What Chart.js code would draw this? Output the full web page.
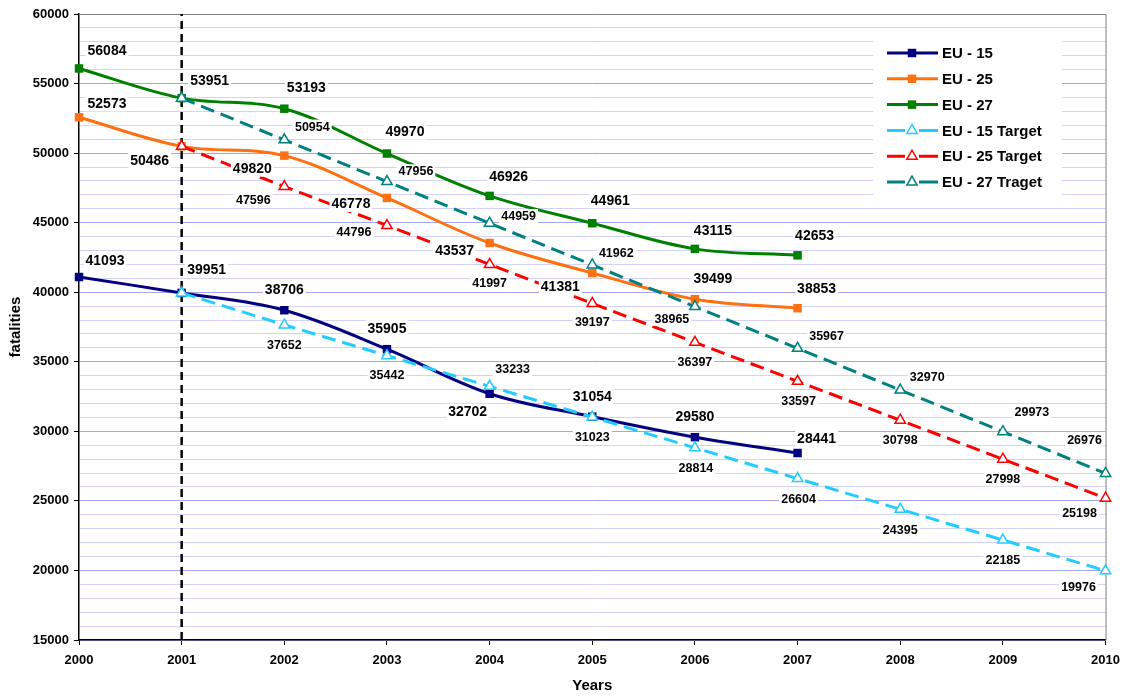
<!DOCTYPE html>
<html lang="en">
<head>
  <meta charset="UTF-8">
  <title>Road fatalities EU-15 / EU-25 / EU-27 and targets 2000–2010</title>
  <script src="https://cdn.jsdelivr.net/npm/chart.js"></script>
  <style>
    html, body {
      margin: 0;
      padding: 0;
      background: #fff;
    }
    .wrap {
      width: 1128px;
      height: 699px;
      position: relative;
    }
  </style>
</head>
<body>

  <div class="wrap">
    <canvas id="fatalChart"></canvas>
  </div>

  <script>
    const years = [2000, 2001, 2002, 2003, 2004, 2005, 2006, 2007, 2008, 2009, 2010];

    // actual values 2000-2007
    const eu15 = [41093, 39951, 38706, 35905, 32702, 31054, 29580, 28441];
    const eu25 = [52573, 50486, 49820, 46778, 43537, 41381, 39499, 38853];
    const eu27 = [56084, 53951, 53193, 49970, 46926, 44961, 43115, 42653];

    // targets 2001-2010
    const eu15Target = [39951, 37652, 35442, 33233, 31023, 28814, 26604, 24395, 22185, 19976];
    const eu25Target = [50486, 47596, 44796, 41997, 39197, 36397, 33597, 30798, 27998, 25198];
    const eu27Target = [53951, 50954, 47956, 44959, 41962, 38965, 35967, 32970, 29973, 26976];

    const seriesNames = ['EU - 15', 'EU - 25', 'EU - 27', 'EU - 15 Target', 'EU - 25 Target', 'EU - 27 Traget'];

    // where each value label sits relative to its point (px)
    const lbl15 = [[26, -16], [25, -23], [0, -21], [0, -21], [-22, 18], [0, -20], [0, -21], [19, -14]];
    const lbl25 = [[28, -14], [-32, 14], [-32, 13], [-36, 6], [-35, 8], [-32, 14], [18, -21], [19, -20]];
    const lbl27 = [[28, -18], [28, -18], [22, -21], [18, -22], [19, -19], [18, -23], [18, -18], [17, -20]];
    const lbl15T = [null, [0, 20], [0, 19], [23, -17], [0, 20], [1, 20], [1, 20], [0, 21], [0, 20], [-27, 16]];
    const lbl25T = [null, [-31, 13], [-33, 7], [0, 19], [0, 19], [0, 20], [1, 20], [0, 20], [0, 20], [-26, 15]];
    const lbl27T = [null, [28, -13], [29, -10], [29, -7], [24, -12], [-23, 12], [29, -12], [27, -13], [29, -20], [-21, -33]];

    const FONT = 'Arial, "Liberation Sans", sans-serif';
    Chart.defaults.font.family = FONT;

    const pts = (vals, start) => vals.map((v, i) => ({ x: years[start + i], y: v }));

    function solid(label, vals, color, lbls) {
      return {
        label: label,
        data: pts(vals, 0),
        borderColor: color,
        backgroundColor: color,
        borderWidth: 3,
        tension: 0.35,
        pointStyle: 'rect',
        pointRadius: 6,
        pointBorderWidth: 0,
        clip: false,
        labelOffsets: lbls,
        labelSize: 14
      };
    }

    function target(label, vals, color, lbls) {
      return {
        label: label,
        data: pts(vals, 1),
        borderColor: color,
        backgroundColor: '#ffffff',
        pointBorderColor: color,
        borderWidth: 3,
        borderDash: [14, 7],
        tension: 0,
        pointStyle: 'triangle',
        pointRadius: 6,
        pointBorderWidth: 1.5,
        clip: false,
        labelOffsets: lbls,
        labelSize: 12.5,
        isTarget: true
      };
    }

    const colors = ['#000080', '#ff7010', '#008000', '#22ccff', '#ff0000', '#008080'];

    const datasets = [
      target(seriesNames[3], eu15Target, colors[3], lbl15T),
      target(seriesNames[4], eu25Target, colors[4], lbl25T),
      target(seriesNames[5], eu27Target, colors[5], lbl27T),
      solid(seriesNames[0], eu15, colors[0], lbl15),
      solid(seriesNames[1], eu25, colors[1], lbl25),
      solid(seriesNames[2], eu27, colors[2], lbl27),
      {
        label: 'marker2001',
        data: [{ x: 2001, y: 15000 }, { x: 2001, y: 60000 }],
        borderColor: '#000',
        borderWidth: 2.5,
        borderDash: [8, 5],
        pointRadius: 0
      }
    ];

    // value labels with white boxes, plot frame, legend, axis titles
    const decor = {
      id: 'decor',
      beforeDatasetsDraw(chart) {
        const { ctx, chartArea: a } = chart;
        ctx.save();
        ctx.strokeStyle = '#808080';
        ctx.lineWidth = 1;
        ctx.beginPath();
        ctx.moveTo(a.left, a.top + 0.5);
        ctx.lineTo(a.right + 0.5, a.top + 0.5);
        ctx.lineTo(a.right + 0.5, a.bottom);
        ctx.stroke();
        ctx.restore();
      },
      afterDatasetsDraw(chart) {
        const { ctx, chartArea: a } = chart;
        ctx.save();
        ctx.textAlign = 'center';
        ctx.textBaseline = 'middle';
        chart.data.datasets.forEach((ds, di) => {
          if (!ds.labelOffsets) return;
          const meta = chart.getDatasetMeta(di);
          ctx.font = 'bold ' + ds.labelSize + 'px ' + FONT;
          meta.data.forEach((p, i) => {
            const off = ds.labelOffsets[i];
            if (!off) return;
            const txt = String(ds.data[i].y);
            const cx = p.x + off[0], cy = p.y + off[1];
            const w = ctx.measureText(txt).width + 4;
            const h = ds.labelSize + 2;
            ctx.fillStyle = '#fff';
            ctx.fillRect(cx - w / 2, cy - h / 2, w, h);
            ctx.fillStyle = '#000';
            ctx.fillText(txt, cx, cy + 0.5);
          });
        });

        // legend
        const bx = 873, by = 36, bw = 189, bh = 162;
        ctx.fillStyle = '#fff';
        ctx.fillRect(bx, by, bw, bh);
        const order = [3, 4, 5, 0, 1, 2];
        ctx.textAlign = 'left';
        ctx.font = 'bold 15px ' + FONT;
        order.forEach((di, k) => {
          const ds = chart.data.datasets[di];
          const y = 53 + k * 25.8;
          const x0 = 887, x1 = 938, xm = 912;
          ctx.setLineDash([]);
          ctx.strokeStyle = ds.borderColor;
          ctx.lineWidth = 3;
          ctx.beginPath();
          if (ds.isTarget) {
            ctx.moveTo(x0, y); ctx.lineTo(905, y);
            ctx.moveTo(919, y); ctx.lineTo(x1, y);
          } else {
            ctx.moveTo(x0, y); ctx.lineTo(x1, y);
          }
          ctx.stroke();
          ctx.fillStyle = ds.isTarget ? '#fff' : ds.borderColor;
          ctx.strokeStyle = ds.borderColor;
          ctx.lineWidth = ds.pointBorderWidth || 0.01;
          Chart.helpers.drawPoint(ctx, {
            pointStyle: ds.pointStyle,
            radius: ds.pointRadius,
            borderWidth: ds.pointBorderWidth || 0.01
          }, xm, y);
          ctx.fillStyle = '#000';
          ctx.fillText(ds.label, 942, y + 1);
        });

        // axis titles
        ctx.fillStyle = '#000';
        ctx.textAlign = 'center';
        ctx.font = 'bold 15px ' + FONT;
        ctx.fillText('Years', (a.left + a.right) / 2, a.bottom + 46);
        ctx.translate(16, (a.top + a.bottom) / 2);
        ctx.rotate(-Math.PI / 2);
        ctx.fillText('fatalities', 0, 0);
        ctx.restore();
      }
    };

    new Chart(document.getElementById('fatalChart'), {
      type: 'line',
      data: { datasets: datasets },
      options: {
        responsive: true,
        maintainAspectRatio: false,
        animation: false,
        layout: { padding: { top: 14, right: 20, left: 0, bottom: 0 } },
        plugins: {
          legend: { display: false },
          tooltip: { enabled: false }
        },
        scales: {
          x: {
            type: 'linear',
            min: 2000,
            max: 2010,
            afterFit: s => { s.height = 59; },
            ticks: {
              stepSize: 1,
              padding: 8,
              color: '#000',
              font: { size: 13, weight: 'bold' },
              callback: v => String(v)
            },
            grid: {
              drawOnChartArea: false,
              tickLength: 5,
              tickColor: '#000'
            },
            border: { color: '#000', width: 1.5 }
          },
          y: {
            min: 15000,
            max: 60000,
            afterFit: s => { s.width = 79; },
            ticks: {
              stepSize: 1000,
              autoSkip: false,
              padding: 5,
              color: '#000',
              font: { size: 13, weight: 'bold' },
              callback: v => (v % 5000 === 0 ? String(v) : '')
            },
            grid: {
              color: c => {
                const v = c.tick.value;
                if (v === 60000) return '#808080';
                return v % 5000 === 0 ? '#a4a4ec' : '#d2d2fa';
              },
              lineWidth: 1,
              tickLength: 5,
              tickColor: c => (c.tick.value % 5000 === 0 ? '#000' : 'rgba(0,0,0,0)')
            },
            border: { color: '#000', width: 1.5 }
          }
        }
      },
      plugins: [decor]
    });
  </script>

</body>
</html>
